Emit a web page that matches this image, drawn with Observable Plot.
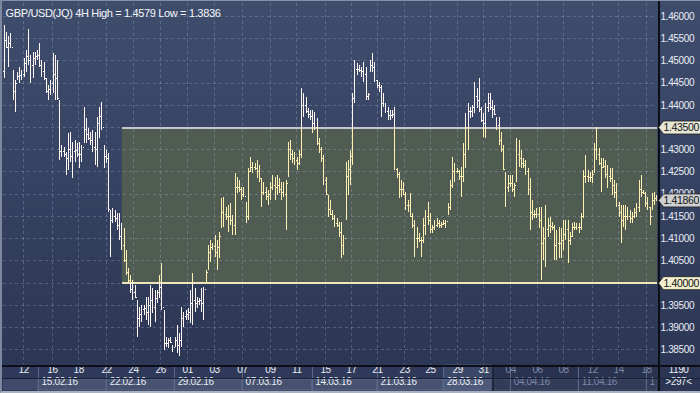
<!DOCTYPE html>
<html>
<head>
<meta charset="utf-8">
<script src="https://cdn.jsdelivr.net/npm/d3@7"></script>
<script src="https://cdn.jsdelivr.net/npm/@observablehq/plot@0.6"></script>
<style>
  html, body { margin: 0; padding: 0; background: #2b3554; }
  #chart { position: relative; width: 700px; height: 393px; overflow: hidden; }
  #chart svg { display: block; }
  #chart svg text { letter-spacing: -0.35px; }
  #chart svg line { shape-rendering: crispEdges; }
  #edge { position: absolute; left: 0; top: 0; width: 698px; height: 390px;
          border-left: 2px solid #7d879f; border-bottom: 2px solid #a9b1c3; border-top: 1px solid #8790a8; border-right: 0;
          pointer-events: none; }
</style>
</head>
<body>
<div id="chart"><div id="edge"></div></div>
<script>
// ---- Chart data (GBP/USD 4H bars) ----
const title = "GBP/USD(JQ) 4H High = 1.4579 Low = 1.3836";

const highs = [
1.4579,1.4564,1.4555,1.4562,1.4478,1.4456,1.4474,1.4485,1.4478,1.4505,1.4523,1.4571,1.4512,1.4519,1.4519,1.4523,1.4539,1.4501,1.4496,1.4461,
1.4445,1.4456,1.4517,1.4512,1.4501,1.4411,1.4310,1.4305,1.4294,1.4337,1.4339,1.4317,1.4321,1.4314,1.4317,1.4310,1.4395,1.4371,1.4348,1.4339,
1.4344,1.4339,1.4373,1.4395,1.4407,1.4310,1.4299,1.4292,1.4164,1.4168,1.4164,1.4157,1.4157,1.4134,1.4123,1.4074,1.4033,1.4017,1.4006,1.3995,
1.3961,1.3945,1.3950,1.3950,1.3968,1.3968,1.3995,1.3988,1.3984,1.3984,1.4017,1.4044,1.3939,1.3878,1.3876,1.3878,1.3860,1.3878,1.3905,1.3887,
1.3945,1.3934,1.3939,1.3943,1.3984,1.4022,1.3988,1.3968,1.3966,1.3988,1.3990,1.4028,1.4085,1.4096,1.4089,1.4107,1.4096,1.4114,1.4190,1.4193,
1.4170,1.4175,1.4179,1.4152,1.4247,1.4238,1.4231,1.4215,1.4215,1.4181,1.4258,1.4283,1.4272,1.4269,1.4276,1.4265,1.4236,1.4226,1.4215,1.4208,
1.4226,1.4242,1.4238,1.4242,1.4236,1.4226,1.4226,1.4231,1.4317,1.4321,1.4299,1.4294,1.4283,1.4299,1.4438,1.4427,1.4418,1.4393,1.4388,1.4388,
1.4384,1.4371,1.4326,1.4305,1.4287,1.4238,1.4197,1.4186,1.4164,1.4152,1.4146,1.4137,1.4137,1.4107,1.4272,1.4276,1.4299,1.4427,1.4501,1.4494,
1.4490,1.4485,1.4496,1.4485,1.4427,1.4501,1.4517,1.4496,1.4456,1.4452,1.4445,1.4427,1.4404,1.4395,1.4388,1.4388,1.4395,1.4258,1.4249,1.4231,
1.4226,1.4204,1.4186,1.4202,1.4157,1.4141,1.4125,1.4112,1.4103,1.4146,1.4164,1.4181,1.4157,1.4130,1.4141,1.4146,1.4141,1.4137,1.4141,1.4141,
1.4179,1.4231,1.4283,1.4269,1.4258,1.4254,1.4260,1.4314,1.4382,1.4404,1.4395,1.4400,1.4452,1.4438,1.4461,1.4395,1.4382,1.4404,1.4427,1.4427,
1.4411,1.4400,1.4373,1.4373,1.4339,1.4310,1.4249,1.4242,1.4242,1.4242,1.4224,1.4326,1.4321,1.4299,1.4280,1.4276,1.4258,1.4236,1.4186,1.4164,
1.4168,1.4170,1.4170,1.4125,1.4175,1.4146,1.4148,1.4137,1.4130,1.4119,1.4125,1.4123,1.4141,1.4141,1.4141,1.4114,1.4134,1.4137,1.4134,1.4134,
1.4157,1.4254,1.4287,1.4254,1.4249,1.4254,1.4314,1.4350,1.4303,1.4280,1.4280,1.4276,1.4265,1.4258,1.4258,1.4231,1.4224,1.4181,1.4175,1.4175,
1.4175,1.4170,1.4164,1.4159,1.4168,1.4179,1.4231,1.4242,1.4208,1.4204,1.4193,1.4170,1.4202,1.4204,1.4197
];
const lows = [
1.4461,1.4528,1.4485,1.4528,1.4411,1.4384,1.4456,1.4449,1.4456,1.4463,1.4474,1.4490,1.4449,1.4461,1.4490,1.4501,1.4485,1.4463,1.4456,1.4427,
1.4411,1.4422,1.4427,1.4411,1.4411,1.4276,1.4283,1.4283,1.4242,1.4254,1.4272,1.4236,1.4272,1.4283,1.4258,1.4272,1.4314,1.4314,1.4321,1.4310,
1.4294,1.4265,1.4260,1.4326,1.4344,1.4258,1.4269,1.4159,1.4058,1.4134,1.4137,1.4119,1.4096,1.4074,1.4047,1.4017,1.3999,1.3977,1.3961,1.3966,
1.3878,1.3900,1.3912,1.3927,1.3916,1.3905,1.3900,1.3932,1.3912,1.3954,1.3966,1.3939,1.3849,1.3855,1.3853,1.3864,1.3844,1.3855,1.3842,1.3836,
1.3855,1.3900,1.3916,1.3916,1.3909,1.3905,1.3934,1.3943,1.3950,1.3934,1.3916,1.3999,1.4028,1.4047,1.4074,1.4058,1.4028,1.4055,1.4123,1.4125,
1.4141,1.4114,1.4130,1.4107,1.4107,1.4202,1.4204,1.4186,1.4193,1.4134,1.4141,1.4249,1.4247,1.4254,1.4236,1.4226,1.4170,1.4197,1.4186,1.4175,
1.4186,1.4208,1.4186,1.4197,1.4202,1.4186,1.4193,1.4119,1.4238,1.4276,1.4269,1.4265,1.4254,1.4265,1.4280,1.4373,1.4382,1.4371,1.4366,1.4337,
1.4344,1.4310,1.4292,1.4272,1.4220,1.4197,1.4148,1.4152,1.4141,1.4125,1.4125,1.4103,1.4055,1.4062,1.4141,1.4197,1.4220,1.4265,1.4404,1.4467,
1.4474,1.4463,1.4452,1.4411,1.4411,1.4474,1.4474,1.4452,1.4438,1.4429,1.4373,1.4395,1.4382,1.4366,1.4366,1.4371,1.4254,1.4236,1.4190,1.4193,
1.4197,1.4164,1.4159,1.4148,1.4123,1.4058,1.4078,1.4091,1.4058,1.4089,1.4107,1.4130,1.4112,1.4112,1.4119,1.4125,1.4123,1.4123,1.4130,1.4123,
1.4152,1.4164,1.4213,1.4226,1.4247,1.4231,1.4193,1.4226,1.4258,1.4299,1.4371,1.4373,1.4382,1.4393,1.4384,1.4361,1.4328,1.4326,1.4384,1.4388,
1.4371,1.4377,1.4344,1.4310,1.4294,1.4254,1.4170,1.4204,1.4215,1.4204,1.4193,1.4226,1.4260,1.4258,1.4258,1.4242,1.4197,1.4119,1.4141,1.4146,
1.4146,1.4123,1.4006,1.4051,1.4035,1.4103,1.4112,1.4119,1.4051,1.4051,1.4055,1.4055,1.4074,1.4096,1.4044,1.4085,1.4103,1.4119,1.4119,1.4112,
1.4119,1.4146,1.4224,1.4226,1.4226,1.4224,1.4247,1.4276,1.4265,1.4204,1.4258,1.4236,1.4213,1.4226,1.4197,1.4190,1.4170,1.4148,1.4089,1.4125,
1.4119,1.4141,1.4134,1.4134,1.4146,1.4148,1.4159,1.4193,1.4200,1.4170,1.4164,1.4130,1.4164,1.4175,1.4184
];
const closes = [
1.4546,1.4530,1.4540,1.4530,1.4430,1.4450,1.4465,1.4468,1.4470,1.4495,1.4510,1.4500,1.4490,1.4505,1.4510,1.4512,1.4490,1.4475,1.4460,1.4430,
1.4435,1.4450,1.4470,1.4460,1.4415,1.4295,1.4295,1.4290,1.4280,1.4300,1.4285,1.4295,1.4298,1.4290,1.4290,1.4305,1.4345,1.4335,1.4325,1.4320,
1.4305,1.4300,1.4360,1.4375,1.4350,1.4285,1.4280,1.4165,1.4140,1.4150,1.4145,1.4130,1.4105,1.4085,1.4050,1.4025,1.4005,1.3985,1.3980,1.3968,
1.3920,1.3930,1.3940,1.3942,1.3935,1.3950,1.3960,1.3945,1.3965,1.3980,1.3990,1.3945,1.3865,1.3865,1.3870,1.3866,1.3855,1.3870,1.3860,1.3870,
1.3920,1.3925,1.3930,1.3935,1.3955,1.3960,1.3955,1.3958,1.3960,1.3955,1.3985,1.4025,1.4070,1.4080,1.4082,1.4070,1.4080,1.4105,1.4160,1.4155,
1.4150,1.4150,1.4140,1.4130,1.4215,1.4215,1.4210,1.4200,1.4195,1.4150,1.4250,1.4260,1.4260,1.4258,1.4250,1.4235,1.4205,1.4205,1.4195,1.4200,
1.4215,1.4220,1.4215,1.4220,1.4210,1.4205,1.4200,1.4225,1.4300,1.4290,1.4280,1.4275,1.4270,1.4290,1.4400,1.4400,1.4385,1.4380,1.4375,1.4360,
1.4350,1.4315,1.4300,1.4280,1.4230,1.4200,1.4165,1.4155,1.4145,1.4135,1.4130,1.4115,1.4085,1.4100,1.4240,1.4255,1.4285,1.4415,1.4480,1.4480,
1.4478,1.4475,1.4470,1.4420,1.4425,1.4490,1.4485,1.4455,1.4445,1.4440,1.4405,1.4400,1.4385,1.4378,1.4378,1.4380,1.4255,1.4245,1.4210,1.4210,
1.4200,1.4175,1.4175,1.4150,1.4130,1.4100,1.4100,1.4095,1.4095,1.4130,1.4150,1.4140,1.4120,1.4125,1.4130,1.4135,1.4130,1.4132,1.4135,1.4138,
1.4170,1.4220,1.4250,1.4252,1.4250,1.4240,1.4240,1.4290,1.4350,1.4385,1.4385,1.4395,1.4420,1.4410,1.4390,1.4365,1.4360,1.4395,1.4405,1.4395,
1.4390,1.4380,1.4355,1.4320,1.4300,1.4255,1.4215,1.4225,1.4225,1.4210,1.4220,1.4290,1.4280,1.4270,1.4265,1.4250,1.4210,1.4160,1.4155,1.4155,
1.4155,1.4140,1.4090,1.4100,1.4120,1.4130,1.4128,1.4125,1.4085,1.4090,1.4090,1.4095,1.4110,1.4120,1.4095,1.4105,1.4125,1.4126,1.4125,1.4125,
1.4150,1.4240,1.4240,1.4238,1.4238,1.4245,1.4300,1.4290,1.4270,1.4260,1.4262,1.4245,1.4240,1.4235,1.4220,1.4205,1.4175,1.4160,1.4140,1.4150,
1.4150,1.4150,1.4145,1.4150,1.4160,1.4170,1.4210,1.4205,1.4202,1.4180,1.4170,1.4150,1.4185,1.4190,1.4186
];
const firstOpen = 1.4475;

// price axis
const priceTicks = [1.385,1.39,1.395,1.40,1.405,1.41,1.415,1.42,1.425,1.43,1.435,1.44,1.445,1.45,1.455,1.46];
// trading-day ticks (bar index where the day starts) and labels
const dayTicks  = [8.8,21.8,33.6,46.2,58.3,70.5,82.7,94.8,107.4,120.0,131.8,144.8,156.5,168.2,180.4,192.1,204.3,216.0,228.2,240.3,252.0,265.1,276.8,289.4];
const dayLabels = ["12","16","18","22","24","26","01","03","07","09","11","15","17","21","23","25","29","31","04","06","08","12","14","18"];
// week starts (bar index) and labels
const weekStarts = [15.5,46.2,76.8,107.4,138.8,168.2,198.0,228.2,258.8,289.4];
const weekLabels = ["15.02.16","22.02.16","29.02.16","07.03.16","14.03.16","21.03.16","28.03.16","04.04.16","11.04.16","18.04.16"];
const dimFrom = 220;      // bar index from which the time scale is greyed
const currentWeek = 6;    // highlighted week column (28.03.16)
// price channel (box)
const zoneStart = 53.2, zoneTop = 1.435, zoneBottom = 1.40;
const lastPrice = 1.4186;
const barCount = "1190", visibleBars = ">297<";

// ---- derived tables ----
const xDomain = [-0.3, highs.length - 1 + 0.3];
const yDomain = [1.3817, 1.4629];
const bars = highs.map((h, i) => ({
  i, high: h, low: lows[i], close: closes[i], open: i === 0 ? firstOpen : closes[i - 1]
}));
const inZoneX = d => d.i >= zoneStart;
const inZoneY = v => v >= zoneBottom && v <= zoneTop;
const yellowBars = bars.filter(inZoneX)
  .map(d => ({i: d.i, y1: Math.max(d.low, zoneBottom), y2: Math.min(d.high, zoneTop)}))
  .filter(d => d.y1 < d.y2);
const openOut = bars.filter(d => !(inZoneX(d) && inZoneY(d.open)));
const openIn = bars.filter(d => inZoneX(d) && inZoneY(d.open));
const closeOut = bars.filter(d => !(inZoneX(d) && inZoneY(d.close)));
const closeIn = bars.filter(d => inZoneX(d) && inZoneY(d.close));

const weeks = weekStarts.map((s, k) => ({
  k, start: s, end: k + 1 < weekStarts.length ? weekStarts[k + 1] : xDomain[1], label: weekLabels[k]
}));
const lastWeek = weeks[weeks.length - 1];            // cut off by the right panel
const fullWeeks = weeks.slice(0, -1);
const days = dayTicks.map((t, k) => ({t, label: dayLabels[k]}));
// axis labels hidden under the price tags
const tagged = [zoneTop, zoneBottom];
const axisTicks = priceTicks.filter(p => !tagged.some(t => Math.abs(t - p) < 1e-9));

const WHITE = "#fff6f1", YELLOW = "#fff1b4";
const TEXT = "#e9edf5", DIM = "#7d89a8";

const tagShape = {
  draw(ctx) {
    ctx.moveTo(0, 0); ctx.lineTo(5, -6.5); ctx.lineTo(42, -6.5);
    ctx.lineTo(42, 6.5); ctx.lineTo(5, 6.5); ctx.closePath();
  }
};
const tags = [
  {y: zoneTop, fill: "#e6e6d6"},
  {y: lastPrice, fill: "#cfd0d2"},
  {y: zoneBottom, fill: "#f1edce"}
];

const BOT = {insetTop: 361, insetBottom: -29}; // bottom time panel (364..393)

const chart = Plot.plot({
  width: 700, height: 393,
  marginLeft: 3, marginRight: 43, marginTop: 3, marginBottom: 29,
  x: {domain: xDomain, axis: null},
  y: {domain: yDomain, axis: null},
  style: {background: "linear-gradient(#3f4d6c, #2b3554)", color: TEXT,
          fontFamily: "'Liberation Sans', Arial, sans-serif", fontSize: "10px", overflow: "hidden"},
  marks: [
    // price channel box
    Plot.rect([0], {x1: zoneStart, x2: xDomain[1], y1: zoneBottom, y2: zoneTop, fill: "#505b51"}),
    // grid
    Plot.gridY(priceTicks, {stroke: "#b4c2e4", strokeOpacity: 0.28, strokeDasharray: "3,3"}),
    Plot.gridX(dayTicks, {stroke: "#b4c2e4", strokeOpacity: 0.28, strokeDasharray: "3,3"}),
    // channel borders
    Plot.ruleY([zoneTop], {x1: zoneStart, x2: xDomain[1], stroke: "#c3c6cc", strokeWidth: 2}),
    Plot.ruleY([zoneBottom], {x1: zoneStart, x2: xDomain[1], stroke: "#ece6bc", strokeWidth: 2}),
    // OHLC bars (white)
    Plot.ruleX(bars, {x: "i", y1: "low", y2: "high", stroke: WHITE, strokeWidth: 1}),
    Plot.ruleY(openOut, {y: "open", x1: d => d.i - 0.45, x2: "i", stroke: WHITE}),
    Plot.ruleY(closeOut, {y: "close", x1: "i", x2: d => d.i + 0.45, stroke: WHITE}),
    // parts inside the channel (yellow)
    Plot.ruleX(yellowBars, {x: "i", y1: "y1", y2: "y2", stroke: YELLOW, strokeWidth: 1}),
    Plot.ruleY(openIn, {y: "open", x1: d => d.i - 0.45, x2: "i", stroke: YELLOW}),
    Plot.ruleY(closeIn, {y: "close", x1: "i", x2: d => d.i + 0.45, stroke: YELLOW}),
    // bottom time panel backgrounds
    Plot.rect([0], {...BOT, fill: "#2f3959"}),
    Plot.rect([0], {...BOT, x1: dimFrom, x2: xDomain[1], fill: "#29324e"}),
    Plot.rect([weeks[currentWeek]], {...BOT, x1: "start", x2: () => dimFrom, fill: "#3b4766"}),
    Plot.rect([0], {x1: xDomain[0], x2: weekStarts[0], insetTop: 376, insetBottom: -26, fill: "#3f4b6a"}),
    Plot.rect(weeks.filter(w => w.start < dimFrom), {x1: "start", x2: d => Math.min(d.end, dimFrom), insetTop: 376, insetBottom: -26,
      fill: d => d.k === currentWeek ? "#4d5a7a" : "#46526f", stroke: "#5c6889"}),
    Plot.rect(weeks.filter(w => w.start >= dimFrom || w.end > dimFrom), {x1: d => Math.max(d.start, dimFrom), x2: "end", insetTop: 376, insetBottom: -26,
      fill: "#323c58", stroke: "#434d6b"}),
    Plot.ruleX(weekStarts, {insetTop: 362, insetBottom: -27, stroke: "#5c6889"}),
    Plot.ruleX([dimFrom], {insetTop: 362, insetBottom: -29, stroke: "#1f273f", strokeWidth: 2}),
    // day labels
    Plot.text(days.filter(d => d.t < dimFrom), {x: "t", text: "label", frameAnchor: "bottom", dy: 8, fill: TEXT}),
    Plot.text(days.filter(d => d.t >= dimFrom), {x: "t", text: "label", frameAnchor: "bottom", dy: 8, fill: DIM}),
    // week labels
    Plot.text(fullWeeks.filter(w => w.start < dimFrom), {x: "start", text: "label", frameAnchor: "bottom", dy: 20, dx: 3, textAnchor: "start", fill: TEXT}),
    Plot.text(fullWeeks.filter(w => w.start >= dimFrom), {x: "start", text: "label", frameAnchor: "bottom", dy: 20, dx: 3, textAnchor: "start", fill: DIM}),
    // last week label, cut off where the right panel begins
    Plot.text([lastWeek], {x: "start", text: "label", frameAnchor: "bottom", dy: 20, dx: 3, textAnchor: "start", fill: DIM,
      lineWidth: 0.75, textOverflow: "clip-end"}),
    // right price axis
    Plot.axisY(axisTicks, {anchor: "right", tickSize: 0, tickPadding: 3, tickFormat: d3.format(".5f"), fill: TEXT, fontSize: 10}),
    // bottom-right counter cell
    Plot.rect([0], {x1: xDomain[1], x2: xDomain[1], insetRight: -43, ...BOT, fill: "#2c3553"}),
    Plot.text([barCount], {text: d => d, frameAnchor: "bottom-right", dx: 21, dy: 8, textAnchor: "middle", fill: TEXT}),
    Plot.ruleY([yDomain[0]], {insetLeft: 663, insetRight: -35, dy: 14, stroke: "#8c96b0"}),
    Plot.text([visibleBars], {text: d => d, frameAnchor: "bottom-right", dx: 21, dy: 20, textAnchor: "middle", fill: TEXT}),
    // separators
    Plot.ruleX([xDomain[1]], {stroke: "#0c0f18", strokeWidth: 2, insetTop: -3, insetBottom: -29, dx: 1}),
    Plot.ruleY([yDomain[0]], {stroke: "#0c0f18", strokeWidth: 2, insetLeft: -3, insetRight: -43, dy: 1}),
    Plot.ruleY([yDomain[0]], {stroke: "#1b2135", strokeWidth: 1, insetLeft: -3, insetRight: -43, dy: 14}),
    // price tags
    ...tags.map(t => Plot.dot([t], {y: "y", frameAnchor: "right", dx: 1, symbol: tagShape, fill: t.fill, stroke: "#222", strokeWidth: 0.8})),
    Plot.text(tags, {y: "y", text: d => d3.format(".5f")(d.y), frameAnchor: "right", dx: 6, textAnchor: "start", fill: "#111", fontSize: 10.5}),
    // title
    Plot.text([title], {text: d => d, frameAnchor: "top-left", dx: 2, dy: 6, textAnchor: "start", fill: "#f4f6fa", fontSize: 11, style: "letter-spacing:-0.5px"})
  ]
});
document.getElementById("chart").prepend(chart);
</script>
</body>
</html>
